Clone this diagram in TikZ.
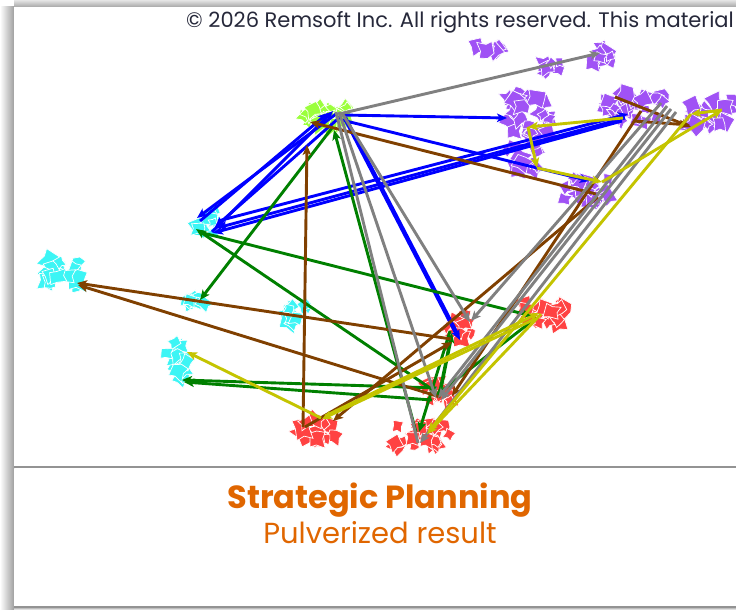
\documentclass[tikz,border=0pt]{standalone}
\usepackage{fontspec}
\setmainfont{Poppins}
\newfontfamily\pop{Poppins}
\usetikzlibrary{arrows.meta}
\definecolor{cblue}{RGB}{0,0,255}
\definecolor{cgreen}{RGB}{0,128,0}
\definecolor{cbrown}{RGB}{128,64,0}
\definecolor{cgray}{RGB}{128,128,128}
\definecolor{cyell}{RGB}{196,196,0}
\definecolor{pcyan}{RGB}{60,245,245}
\definecolor{plime}{RGB}{155,255,60}
\definecolor{ppurp}{RGB}{160,82,245}
\definecolor{pred}{RGB}{255,66,66}
\definecolor{torange}{RGB}{224,102,0}
\definecolor{tnavy}{RGB}{38,40,58}
\tikzset{
  conn/.style={line width=2.9pt, -{Stealth[length=10pt,width=8.5pt,inset=2.5pt]}},
  blu/.style={conn, draw=cblue, color=cblue},
  grn/.style={conn, draw=cgreen, color=cgreen},
  brn/.style={conn, draw=cbrown, color=cbrown},
  gry/.style={conn, draw=cgray, color=cgray},
  yel/.style={conn, draw=cyell, color=cyell},
  plain/.style={line width=2.9pt},
}
\newcommand\patchcluster[8]{%
  \pgfmathsetseed{#8}%
  \foreach \k in {1,...,#6}{%
    \pgfmathsetmacro\pdx{rand*#4}%
    \pgfmathsetmacro\pdy{rand*#5}%
    \pgfmathsetmacro\prt{rnd*180}%
    \pgfmathsetmacro\psz{#7*(0.6+0.7*rnd)}%
    \pgfmathsetmacro\psa{0.5+0.6*rnd}%
    \pgfmathsetmacro\psb{0.3+0.6*rnd}%
    \fill[#1, draw=white, line width=0.7pt, shift={({#2+\pdx},{#3+\pdy})}, rotate=\prt]
      ({-\psz},{-\psa*\psz}) -- ({0.1*\psz},{-0.7*\psz}) -- ({0.8*\psz},{-\psz}) -- ({\psz},{\psb*\psz}) -- ({0.2*\psz},{\psa*\psz}) -- ({-0.8*\psz},{0.9*\psz}) -- ({-0.6*\psz},{0.1*\psz}) -- cycle;
  }%
}
\begin{document}
\begin{tikzpicture}[x=1pt,y=-1pt]
\useasboundingbox (0,0) rectangle (736,610);
\fill[white] (0,0) rectangle (736,610);
% shadows and panels
\shade[top color=gray!20, bottom color=gray!70] (14,0) rectangle (736,7);
\shade[left color=white, right color=gray!75] (0,7) rectangle (14,610);
\fill[white] (14,7) rectangle (736,466);
\fill[gray!85] (14,465.5) rectangle (736,468);
\fill[white] (14,469) rectangle (736,606);
\fill[gray!85] (14,606) rectangle (736,608);
\shade[top color=gray!50, bottom color=white] (14,608) rectangle (736,610);

% patch clusters
\patchcluster{plime}{325}{117}{22}{9}{30}{8}{11}
\patchcluster{pcyan}{203}{222}{10}{11}{9}{6.5}{12}
\patchcluster{pcyan}{60}{272}{18}{13}{14}{8}{13}
\patchcluster{pcyan}{193}{297}{12}{7}{9}{6.5}{14}
\patchcluster{pcyan}{294}{318}{14}{13}{11}{7.5}{15}
\patchcluster{pcyan}{176}{362}{11}{20}{15}{7.5}{16}
\patchcluster{ppurp}{487}{52}{14}{5}{9}{7}{17}
\patchcluster{ppurp}{551}{67}{9}{8}{8}{6.5}{18}
\patchcluster{ppurp}{601}{56}{9}{9}{9}{7.5}{19}
\patchcluster{ppurp}{528}{116}{23}{23}{28}{7.5}{20}
\patchcluster{ppurp}{522}{158}{19}{13}{14}{7.5}{21}
\patchcluster{ppurp}{588}{190}{25}{13}{20}{7.5}{22}
\patchcluster{ppurp}{636}{109}{29}{15}{26}{7.5}{23}
\patchcluster{ppurp}{710}{113}{24}{13}{22}{7.5}{24}
\patchcluster{pred}{458}{327}{12}{14}{14}{7.5}{25}
\patchcluster{pred}{543}{313}{19}{11}{16}{7.5}{26}
\patchcluster{pred}{442}{392}{16}{10}{14}{7.5}{27}
\patchcluster{pred}{320}{430}{18}{11}{14}{8.5}{28}
\patchcluster{pred}{420}{437}{29}{11}{21}{7.5}{29}

% endpoint coordinates
\coordinate (gb1) at (328,113);
\coordinate (gb2) at (336,114);
\coordinate (gb3) at (340,117);
\coordinate (gb4) at (333,111);
\coordinate (gb5) at (342,115);
\coordinate (gb6) at (342,120);
\coordinate (gb7) at (345,118);
\coordinate (gg1) at (332,128);
\coordinate (gg2) at (334,130);
\coordinate (gw1) at (307,145);
\coordinate (gw2) at (310,122);
\coordinate (gy1) at (339,114);
\coordinate (gy2) at (336,112);
\coordinate (gy3) at (339,112);
\coordinate (gy4) at (342,113);
\coordinate (c1a) at (200,221);
\coordinate (c1b) at (197,218);
\coordinate (c1c) at (215,227);
\coordinate (c1d) at (212,232);
\coordinate (c1e) at (218,221);
\coordinate (c1f) at (217,228);
\coordinate (c1g) at (213,233);
\coordinate (c1h) at (196,229);
\coordinate (c1i) at (199,232);
\coordinate (c2a) at (77,283);
\coordinate (c2b) at (78,285);
\coordinate (c3a) at (200,300);
\coordinate (c5a) at (182,380);
\coordinate (c5b) at (184,382);
\coordinate (c5c) at (187,352);
\coordinate (p3a) at (600,53);
\coordinate (p4a) at (507,118);
\coordinate (p4b) at (528,127);
\coordinate (p4c) at (537,168);
\coordinate (p5a) at (590,181);
\coordinate (p5b) at (596,194);
\coordinate (p5c) at (598,197);
\coordinate (p5d) at (602,182);
\coordinate (p6a) at (628,114);
\coordinate (p6b) at (625,118);
\coordinate (p6c) at (622,121);
\coordinate (p6d) at (641,111);
\coordinate (p6e) at (615,97);
\coordinate (p6f) at (633,121);
\coordinate (p6g) at (661,103);
\coordinate (p6h) at (667,106);
\coordinate (p6i) at (671,109);
\coordinate (p6j) at (676,112);
\coordinate (p6k) at (623,118);
\coordinate (p7a) at (691,127);
\coordinate (p7b) at (690,125);
\coordinate (p7c) at (722,110);
\coordinate (p7d) at (691,114);
\coordinate (r1a) at (450,331);
\coordinate (r1b) at (452,333);
\coordinate (r1c) at (452,342);
\coordinate (r1d) at (451,339);
\coordinate (r1e) at (470,322);
\coordinate (r1f) at (471,321);
\coordinate (r1g) at (460,340);
\coordinate (r2a) at (532,316);
\coordinate (r2b) at (536,318);
\coordinate (r2c) at (541,314);
\coordinate (r2d) at (539,313);
\coordinate (r2e) at (535,319);
\coordinate (r3a) at (436,392);
\coordinate (r3b) at (437,388);
\coordinate (r3c) at (432,400);
\coordinate (r3d) at (439,397);
\coordinate (r3e) at (435,396);
\coordinate (r3f) at (440,397);
\coordinate (r3g) at (452,396);
\coordinate (r3h) at (436,398);
\coordinate (r3i) at (438,398);
\coordinate (r3j) at (441,400);
\coordinate (r4a) at (303,427);
\coordinate (r4b) at (305,427);
\coordinate (r4c) at (333,421);
\coordinate (r4d) at (321,418);
\coordinate (r4e) at (325,416);
\coordinate (r4f) at (322,419);
\coordinate (r5a) at (416,432);
\coordinate (r5b) at (419,432);
\coordinate (r5c) at (418,443);
\coordinate (r5d) at (420,443);
\coordinate (r5e) at (428,432);
\coordinate (r5f) at (427,434);

% blue
\draw[blu] (c1a) -- (gb1);
\draw[blu] (gb2) -- (c1b);
\draw[blu] (gb3) -- (c1c);
\draw[blu] (c1d) -- (gb4);
\draw[blu] (gb5) -- (p4a);
\draw[blu] (gb6) -- (p5a);
\draw[blu] (c1e) -- (p6a);
\draw[blu] (p6b) -- (c1f);
\draw[blu] (p6c) -- (c1g);
\draw[blu, line width=4.5pt] (gb7) -- (r1g);
% green
\draw[grn] (gg1) -- (c3a);
\draw[grn] (r5a) -- (gg2);
\draw[grn] (r3a) -- (c1h);
\draw[grn] (c1i) -- (r2a);
\draw[grn] (r3b) -- (c5a);
\draw[grn] (r3c) -- (c5b);
\draw[grn] (r1a) -- (r5b);
\draw[grn, line width=3.6pt] (r3d) -- (r1b);
\draw[grn] (r2b) -- (r3e);
% brown
\draw[brn] (r4a) -- (gw1);
\draw[brn] (p5b) -- (gw2);
\draw[brn] (r4b) -- (r1c);
\draw[brn] (r1d) -- (c2a);
\draw[brn] (r3f) -- (c2b);
\draw[brn] (p5c) -- (r4c);
\draw[brn] (p6d) -- (r3g);
\draw[brn] (p6e) -- (p7a);
\draw[brn] (p6f) -- (p7b);
% gray
\draw[gry] (gy1) -- (p3a);
\draw[plain, draw=cgray] (gy2) -- (r5c);
\draw[gry] (gy3) -- (r3h);
\draw[gry] (gy4) -- (r1e);
\draw[gry] (p6g) -- (r1f);
\draw[gry] (p6h) -- (r3i);
\draw[gry] (p6i) -- (r3j);
\draw[gry] (p6j) -- (r5d);
% yellow
\draw[yel] (p6k) -- (p4b);
\draw[yel] (p4b) -- (p4c);
\draw[yel] (p4c) -- (p5d);
\draw[yel] (p5d) -- (p7c);
\draw[yel] (p7c) -- (p7d);
\draw[yel] (p7d) -- (r5e);
\draw[yel] (r2c) -- (r5f);
\draw[yel] (r4d) -- (c5c);
\draw[yel] (r4e) -- (r2d);
\draw[yel] (r2e) -- (r4f);

% texts
\node[anchor=base west, inner sep=0pt, text=tnavy, font=\pop\fontsize{21}{21}\selectfont] (copy) at (186,28) {© 2026 Remsoft Inc. All rights reserved. This material};
\node[anchor=base, inner sep=0pt, text=torange, font=\pop\bfseries\fontsize{32}{32}\selectfont] (title) at (380,508) {Strategic Planning};
\node[anchor=base, inner sep=0pt, text=torange, font=\pop\fontsize{29}{29}\selectfont] (sub) at (380,543) {Pulverized result};
\end{tikzpicture}
\end{document}
